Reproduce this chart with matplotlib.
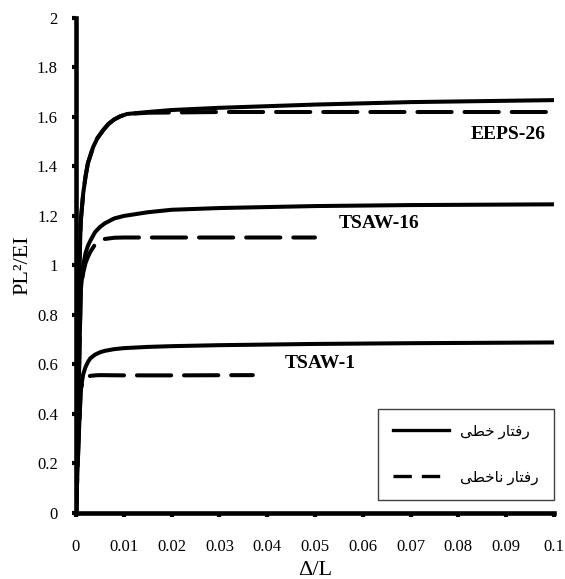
import matplotlib
matplotlib.use("Agg")
import matplotlib.pyplot as plt
from matplotlib.lines import Line2D

# curves (x = Delta/L, y = PL^2/EI)
eeps_lin_x = [0, 0.0003, 0.0007, 0.001, 0.0015, 0.002, 0.0025, 0.0036, 0.0045, 0.0057, 0.0068, 0.008, 0.0093, 0.0107,
              0.015, 0.02, 0.03, 0.05, 0.07, 0.1]
eeps_lin_y = [0, 0.5, 0.99, 1.18, 1.29, 1.36, 1.414, 1.479, 1.515, 1.547, 1.572, 1.59, 1.603, 1.612,
              1.62, 1.628, 1.637, 1.65, 1.66, 1.668]
eeps_nl_x = [0, 0.0003, 0.0007, 0.001, 0.0015, 0.002, 0.0025, 0.0036, 0.0045, 0.0057, 0.0068, 0.008, 0.0093, 0.0107,
             0.015, 0.03, 0.1]
eeps_nl_y = [0, 0.5, 0.99, 1.18, 1.29, 1.36, 1.414, 1.479, 1.515, 1.547, 1.572, 1.59, 1.603, 1.612,
             1.617, 1.62, 1.62]

tsaw16_lin_x = [0, 0.0005, 0.001, 0.0015, 0.002, 0.0025, 0.003, 0.004, 0.005, 0.006, 0.008, 0.01, 0.015, 0.02, 0.03,
                0.05, 0.07, 0.1]
tsaw16_lin_y = [0, 0.45, 0.9, 1.0, 1.05, 1.08, 1.1, 1.135, 1.155, 1.17, 1.19, 1.2, 1.215, 1.225, 1.232,
                1.24, 1.244, 1.247]
tsaw16_nl_x = [0, 0.0005, 0.001, 0.0015, 0.002, 0.0025, 0.003, 0.004, 0.005, 0.006, 0.008, 0.01, 0.02, 0.05]
tsaw16_nl_y = [0, 0.45, 0.9, 0.97, 1.01, 1.035, 1.055, 1.085, 1.1, 1.107, 1.112, 1.113, 1.113, 1.113]

tsaw1_lin_x = [0, 0.0005, 0.001, 0.0015, 0.002, 0.0025, 0.003, 0.004, 0.005, 0.006, 0.008, 0.01, 0.015, 0.02, 0.03,
               0.05, 0.07, 0.1]
tsaw1_lin_y = [0, 0.27, 0.5, 0.56, 0.59, 0.61, 0.625, 0.64, 0.649, 0.655, 0.662, 0.666, 0.671, 0.674, 0.678,
               0.683, 0.686, 0.689]
tsaw1_nl_x = [0, 0.0005, 0.001, 0.0015, 0.002, 0.0025, 0.003, 0.004, 0.005, 0.01, 0.02, 0.037]
tsaw1_nl_y = [0, 0.27, 0.5, 0.535, 0.548, 0.552, 0.554, 0.556, 0.557, 0.556, 0.556, 0.557]

specimen_names = ["EEPS-26", "TSAW-16", "TSAW-1"]
name_x = [0.0905, 0.0635, 0.051]
name_y = [1.53, 1.17, 0.605]

legend_labels = ["رفتار خطی", "رفتار ناخطی"]

xticks = [i / 100 for i in range(11)]
xtick_labels = ["0", "0.01", "0.02", "0.03", "0.04", "0.05", "0.06", "0.07", "0.08", "0.09", "0.1"]
yticks = [i / 5 for i in range(11)]
ytick_labels = ["0", "0.2", "0.4", "0.6", "0.8", "1", "1.2", "1.4", "1.6", "1.8", "2"]

# presentation forms: isolated, final, initial, medial
FA_FORMS = {
    "ر": ("\ufead", "\ufeae", None, None),
    "ا": ("\ufe8d", "\ufe8e", None, None),
    "ف": ("\ufed1", "\ufed2", "\ufed3", "\ufed4"),
    "ت": ("\ufe95", "\ufe96", "\ufe97", "\ufe98"),
    "خ": ("\ufea5", "\ufea6", "\ufea7", "\ufea8"),
    "ط": ("\ufec1", "\ufec2", "\ufec3", "\ufec4"),
    "ن": ("\ufee5", "\ufee6", "\ufee7", "\ufee8"),
    "ی": ("\ufeef", "\ufef0", "\ufef3", "\ufef4"),
}


def shape_fa(text):
    """Join the Persian letters and put them in visual (left to right) order."""
    out = []
    for i, c in enumerate(text):
        if c not in FA_FORMS:
            out.append(c)
            continue
        prev = text[i - 1] if i > 0 else ""
        nxt = text[i + 1] if i + 1 < len(text) else ""
        join_prev = prev in FA_FORMS and FA_FORMS[prev][2] is not None
        join_next = FA_FORMS[c][2] is not None and nxt in FA_FORMS
        iso, fin, ini, med = FA_FORMS[c]
        if join_prev and join_next:
            out.append(med)
        elif join_prev:
            out.append(fin)
        elif join_next:
            out.append(ini)
        else:
            out.append(iso)
    return "".join(reversed(out))


plt.rcParams["font.family"] = ["Liberation Serif", "DejaVu Sans"]

fig = plt.figure(figsize=(5.65, 5.79), dpi=100)
ax = fig.add_axes([0.1345, 0.114, 0.846, 0.855])

lw = 2.9
dash = (0, (8.5, 3.2))
solid_kw = dict(color="black", lw=lw, solid_capstyle="round", solid_joinstyle="round")
dash_kw = dict(color="black", lw=lw, linestyle=dash, dash_capstyle="round", dash_joinstyle="round")

for x, y in [(tsaw1_nl_x, tsaw1_nl_y), (tsaw16_nl_x, tsaw16_nl_y), (eeps_nl_x, eeps_nl_y)]:
    ax.plot(x, y, **dash_kw)
for x, y in [(tsaw1_lin_x, tsaw1_lin_y), (tsaw16_lin_x, tsaw16_lin_y), (eeps_lin_x, eeps_lin_y)]:
    ax.plot(x, y, **solid_kw)

for name, tx, ty in zip(specimen_names, name_x, name_y):
    ax.text(tx, ty, name, ha="center", va="center", fontsize=14, fontweight="bold")

ax.set_xlim(0, 0.1)
ax.set_ylim(0, 2)
ax.set_xticks(xticks, labels=xtick_labels)
ax.set_yticks(yticks, labels=ytick_labels)
ax.tick_params(axis="both", direction="out", length=3, width=3, labelsize=12)
ax.tick_params(axis="x", pad=16)
ax.tick_params(axis="y", pad=10)
for side in ["top", "right"]:
    ax.spines[side].set_visible(False)
for side in ["left", "bottom"]:
    ax.spines[side].set_linewidth(3.3)

ax.set_xlabel("Δ/L", fontsize=16, labelpad=4)
ax.set_ylabel("PL²/EI", fontsize=16, labelpad=3)

handles = [
    Line2D([], [], color="black", lw=2.4),
    Line2D([], [], color="black", lw=2.4, linestyle=(0, (5.5, 3.0))),
]
leg = ax.legend(handles, [shape_fa(s) for s in legend_labels],
                loc="lower right", bbox_to_anchor=(1.0, 0.026), borderaxespad=0,
                fontsize=11, handlelength=3.7, handletextpad=0.7, labelspacing=2.1,
                borderpad=1.0, fancybox=False, framealpha=1, edgecolor="#404040")
leg.get_frame().set_linewidth(1.0)

fig.savefig("out.png", dpi=100)
